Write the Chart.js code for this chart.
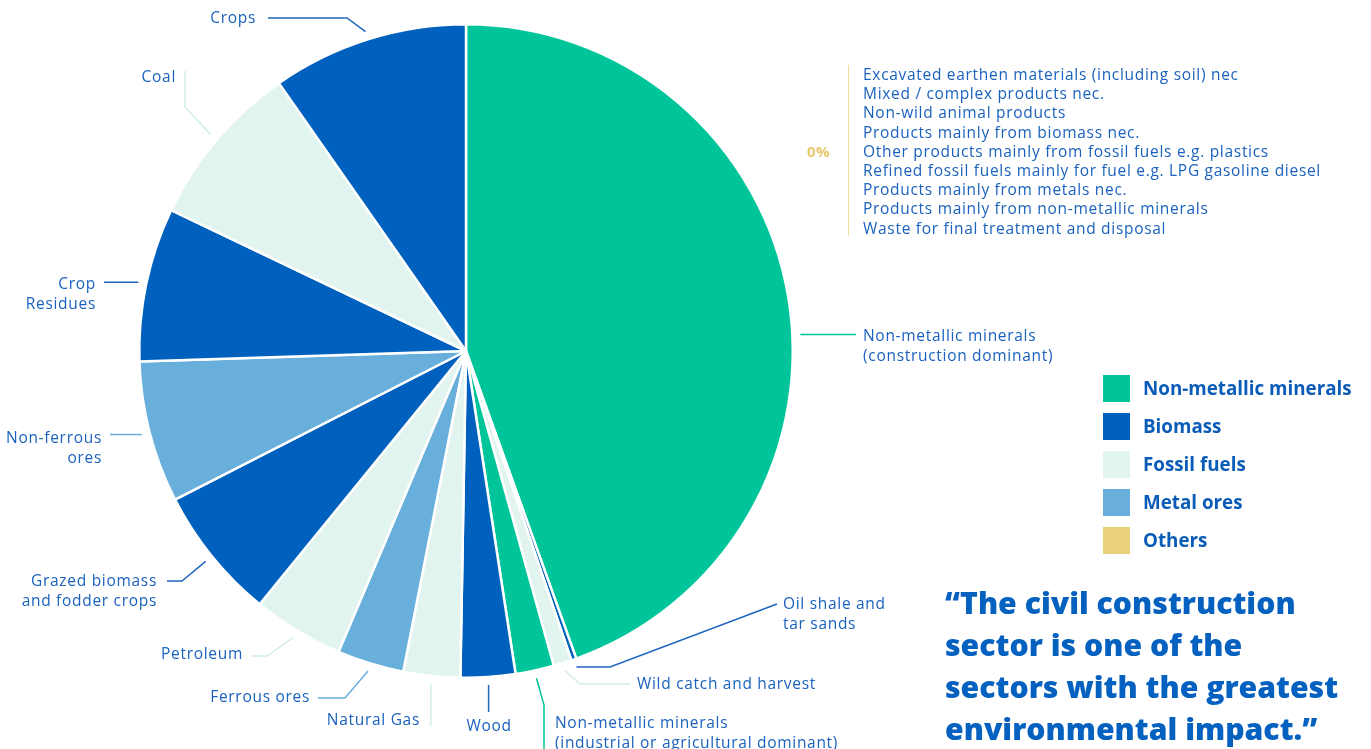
<!DOCTYPE html>
<html>
<head>
<meta charset="utf-8">
<title>Material footprint</title>
<script src="https://cdn.jsdelivr.net/npm/chart.js@4.4.0/dist/chart.umd.min.js"></script>
<style>
  body { margin: 0; background: #fff; font-family: "Open Sans", Lato, sans-serif; }
  #wrap { position: relative; width: 1371px; height: 749px; overflow: hidden; }
  #pie { position: absolute; left: 0; top: 0; }
  #others { position: absolute; left: 800px; top: 65px; height: 171px; }
  #others .pct { position: absolute; left: 7px; top: 76px; color: #E8C96A; font-weight: 700; font-size: 15px; letter-spacing: 0.3px; }
  #others .bar { position: absolute; left: 48px; top: 0; width: 1px; height: 171px; background: #F1DB98; }
  #others .list { position: absolute; left: 63px; top: 0; color: #1A62BE; font-size: 15.5px; letter-spacing: 0.7px; line-height: 19.2px; white-space: nowrap; }
  #legend { position: absolute; left: 1103px; top: 375px; }
  #legend .row { height: 38px; display: flex; }
  #legend .sw { width: 27px; height: 27px; }
  #legend .txt { margin-left: 13px; line-height: 27px; font-size: 18.8px; font-weight: 700; color: #0B5CB8; }
  #quote { position: absolute; left: 945px; top: 582px; color: #0561C0; font-size: 30.2px; font-weight: 800; line-height: 42px; white-space: nowrap; }
</style>
</head>
<body>
<div id="wrap">
  <canvas id="pie" width="1371" height="749"></canvas>
  <div id="others"><span class="pct"></span><div class="bar"></div><div class="list"></div></div>
  <div id="legend"></div>
  <div id="quote"></div>
</div>
<script>
'use strict';

// slices, clockwise from 12 o'clock (share of total, %)
const categories = [
  'Non-metallic minerals (construction dominant)',
  'Oil shale and tar sands',
  'Wild catch and harvest',
  'Non-metallic minerals (industrial or agricultural dominant)',
  'Wood',
  'Natural Gas',
  'Ferrous ores',
  'Petroleum',
  'Grazed biomass and fodder crops',
  'Non-ferrous ores',
  'Crop Residues',
  'Coal',
  'Crops'
];
const shares = [44.5, 0.25, 0.9, 1.9, 2.7, 2.8, 3.3, 4.5, 6.6, 7.0, 7.6, 8.2, 9.7];

// label text as it is wrapped in the picture
const labelLines = [
  ['Non-metallic minerals', '(construction dominant)'],
  ['Oil shale and', 'tar sands'],
  ['Wild catch and harvest'],
  ['Non-metallic minerals', '(industrial or agricultural dominant)'],
  ['Wood'],
  ['Natural Gas'],
  ['Ferrous ores'],
  ['Petroleum'],
  ['Grazed biomass', 'and fodder crops'],
  ['Non-ferrous', 'ores'],
  ['Crop', 'Residues'],
  ['Coal'],
  ['Crops']
];

const groups = ['Non-metallic minerals', 'Biomass', 'Fossil fuels', 'Metal ores', 'Others'];

const othersShare = 0;
const othersItems = [
  'Excavated earthen materials (including soil) nec',
  'Mixed / complex products nec.',
  'Non-wild animal products',
  'Products mainly from biomass nec.',
  'Other products mainly from fossil fuels e.g. plastics',
  'Refined fossil fuels mainly for fuel e.g. LPG gasoline diesel',
  'Products mainly from metals nec.',
  'Products mainly from non-metallic minerals',
  'Waste for final treatment and disposal'
];

const quoteLines = [
  '\u201CThe civil construction',
  'sector is one of the',
  'sectors with the greatest',
  'environmental impact.\u201D'
];

// ---- styles ----
const palette = { teal: '#00C49A', navy: '#0060BD', mint: '#E1F4EF', sky: '#68AFDC', sand: '#EBD07A' };
const groupTone = ['teal', 'navy', 'mint', 'sky', 'sand'];
const sliceTone = ['teal', 'navy', 'mint', 'teal', 'navy', 'mint', 'sky', 'mint', 'navy', 'sky', 'navy', 'mint', 'navy'];
const lineTone = { teal: '#00C49A', navy: '#1F66C0', mint: '#D2EEE6', sky: '#68AFDC' };
const labelColour = '#1A62BE';
const labelFont = '15.5px "Open Sans"';

// leader layout: 'at' = where on the slice arc the line starts,
// path = following points (null = keep previous coordinate), text = anchor of first line
const labelLayout = [
  { at: 0.544, path: [[856, null]], text: [863, 337], align: 'left' },
  { path: [[610, null], [777, 604]], text: [783, 605], align: 'left' },
  { path: [[580, 684], [630, 684]], text: [637, 685], align: 'left' },
  { path: [[544, 705], [544, 752]], text: [555, 724], align: 'left' },
  { path: [[null, 712]], text: [489, 727], align: 'center' },
  { path: [[null, 726]], text: [420, 721], align: 'right' },
  { path: [[345, 698], [318, 698]], text: [310, 698], align: 'right' },
  { path: [[267, 656], [251, 656]], text: [243, 655], align: 'right' },
  { path: [[182, 581], [167, 581]], text: [157, 582], align: 'right' },
  { path: [[110, null]], text: [102, 439], align: 'right' },
  { path: [[104, null]], text: [96, 285], align: 'right' },
  { path: [[185, 107], [185, 71]], text: [176, 78], align: 'right' },
  { path: [[347, 18], [268, 18]], text: [256, 19], align: 'right' }
];

const leaderLabels = {
  id: 'leaderLabels',
  afterDatasetsDraw(chart) {
    const ctx = chart.ctx;
    const arcs = chart.getDatasetMeta(0).data;
    arcs.forEach(function (arc, i) {
      const lay = labelLayout[i];
      if (!lay) return;
      const p = arc.getProps(['x', 'y', 'startAngle', 'endAngle', 'outerRadius'], true);
      const a = p.startAngle + (p.endAngle - p.startAngle) * (lay.at === undefined ? 0.5 : lay.at);
      const r = p.outerRadius + 8;
      let px = p.x + Math.cos(a) * r;
      let py = p.y + Math.sin(a) * r;
      ctx.save();
      ctx.strokeStyle = lineTone[sliceTone[i]];
      ctx.lineWidth = 1.5;
      ctx.beginPath();
      ctx.moveTo(px, py);
      lay.path.forEach(function (pt) {
        px = pt[0] === null ? px : pt[0];
        py = pt[1] === null ? py : pt[1];
        ctx.lineTo(px, py);
      });
      ctx.stroke();
      ctx.fillStyle = labelColour;
      ctx.font = labelFont;
      ctx.letterSpacing = '0.7px';
      ctx.textAlign = lay.align;
      ctx.textBaseline = 'middle';
      labelLines[i].forEach(function (t, k) {
        ctx.fillText(t, lay.text[0], lay.text[1] + k * 19.5);
      });
      ctx.restore();
    });
  }
};

new Chart(document.getElementById('pie'), {
  type: 'pie',
  data: {
    labels: categories.concat(['Others']),
    datasets: [{
      data: shares.concat([othersShare]),
      backgroundColor: sliceTone.map(t => palette[t]).concat([palette.sand]),
      borderColor: '#ffffff',
      borderWidth: 2.5
    }]
  },
  options: {
    responsive: false,
    animation: false,
    layout: { padding: { left: 138, top: 23, right: 577, bottom: 70 } },
    plugins: { legend: { display: false }, tooltip: { enabled: false } }
  },
  plugins: [leaderLabels]
});

// side blocks
document.querySelector('#others .pct').textContent = othersShare + '%';
document.querySelector('#others .list').innerHTML = othersItems.map(t => '<div>' + t + '</div>').join('');
document.getElementById('legend').innerHTML = groups.map((g, i) =>
  '<div class="row"><div class="sw" style="background:' + palette[groupTone[i]] + '"></div><div class="txt">' + g + '</div></div>'
).join('');
document.getElementById('quote').innerHTML = quoteLines.map(t => '<div>' + t + '</div>').join('');
</script>
</body>
</html>
